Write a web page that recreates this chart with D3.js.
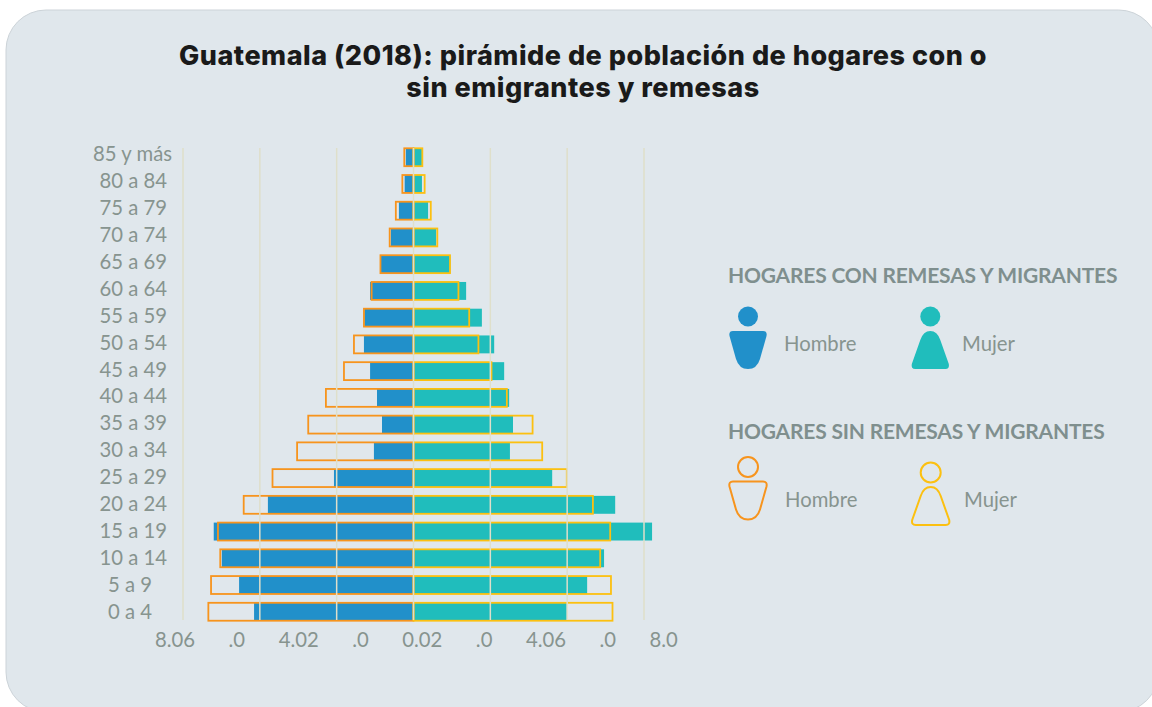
<!DOCTYPE html>
<html><head><meta charset="utf-8">
<script src="https://cdn.jsdelivr.net/npm/d3@7"></script>
<style>html,body{margin:0;background:#fff}svg{display:block}</style></head>
<body><svg id="c" width="1152" height="707"></svg>
<script>
const ageGroups = ["85 y más","80 a 84","75 a 79","70 a 74","65 a 69","60 a 64","55 a 59","50 a 54","45 a 49","40 a 44","35 a 39","30 a 34","25 a 29","20 a 24","15 a 19","10 a 14","5 a 9","0 a 4"];
const hombreCon = [0.20,0.23,0.38,0.59,0.85,1.13,1.28,1.29,1.13,0.95,0.82,1.03,2.07,3.79,5.20,4.99,4.54,4.15];
const hombreSin = [0.24,0.29,0.46,0.62,0.86,1.09,1.29,1.55,1.81,2.28,2.74,3.03,3.67,4.42,5.09,5.03,5.27,5.34];
const mujerCon = [0.22,0.22,0.38,0.59,0.96,1.37,1.78,2.10,2.36,2.49,2.59,2.51,3.61,5.25,6.21,4.96,4.52,3.99];
const mujerSin = [0.23,0.29,0.45,0.62,0.95,1.17,1.45,1.69,2.03,2.43,3.10,3.35,3.99,4.67,5.12,4.86,5.14,5.18];
const gridValues = [-6,-4,-2,0,2,4,6];
const axisLabels = ["8.06",".0","4.02",".0","0.02",".0","4.06",".0","8.0"];

const svg = d3.select("#c");
svg.append("rect").attr("x",6).attr("y",10).attr("width",1152.6).attr("height",702).attr("rx",40)
  .attr("fill","#e0e7ec").attr("stroke","#ccd3d8").attr("stroke-width",1);

const title = svg.append("text").attr("text-anchor","middle").attr("fill","#1a1a1a")
  .attr("font-family","Inter").attr("font-weight",800).attr("font-size",27).attr("letter-spacing",0.5);
title.append("tspan").attr("x",583).attr("y",65).text("Guatemala (2018): pirámide de población de hogares con o");
title.append("tspan").attr("x",583).attr("y",97).text("sin emigrantes y remesas");

const x = d3.scaleLinear().domain([-6,6]).range([183,644]);
const y = d3.scaleBand().domain(ageGroups).range([144,625]).paddingInner(0.33).paddingOuter(0.16);
const yLabel = d3.scalePoint().domain(ageGroups).range([154,612]);
const gray = "#87948f";

const bars = (vals,sign,fill) => svg.append("g").selectAll("rect").data(vals).join("rect")
  .attr("x",d=>sign<0?x(-d):x(0)).attr("width",d=>Math.abs(x(d)-x(0)))
  .attr("y",(d,i)=>y(ageGroups[i])).attr("height",y.bandwidth()).attr("fill",fill);
bars(hombreCon,-1,"#2190ca");
bars(mujerCon,1,"#20bdbc");

const outlines = (vals,sign,stroke) => svg.append("g").selectAll("rect").data(vals).join("rect")
  .attr("x",d=>sign<0?x(-d):x(0)).attr("width",d=>Math.abs(x(d)-x(0)))
  .attr("y",(d,i)=>y(ageGroups[i])).attr("height",y.bandwidth()).attr("fill","none")
  .attr("stroke",stroke).attr("stroke-width",1.8);
outlines(hombreSin,-1,"#f7941d");
outlines(mujerSin,1,"#fcc010");

svg.append("g").selectAll("line").data(gridValues).join("line")
  .attr("x1",d=>x(d)).attr("x2",d=>x(d)).attr("y1",148).attr("y2",620)
  .attr("stroke","#dfdfca").attr("stroke-width",1.5);

svg.append("g").selectAll("text").data(ageGroups).join("text")
  .attr("x",d=>d==="85 y más"?172:(d==="5 a 9"||d==="0 a 4"?152:167))
  .attr("text-anchor","end")
  .attr("y",d=>yLabel(d)+7).attr("fill",gray)
  .attr("font-family","Lato").attr("font-size",20.3).text(d=>d);

const axisText = svg.append("text").attr("x",155).attr("y",646.5).attr("fill",gray)
  .attr("font-family","Lato").attr("font-size",20.3);
axisText.selectAll("tspan").data(axisLabels).join("tspan")
  .attr("dx",(d,i)=>i?33.5:0).text(d=>d);

const legendHead = [["HOGARES CON REMESAS Y MIGRANTES",283],["HOGARES SIN REMESAS Y MIGRANTES",439]];
svg.append("g").selectAll("text").data(legendHead).join("text")
  .attr("x",728).attr("y",d=>d[1]).attr("fill","#7f8f8e").attr("font-family","Lato")
  .attr("font-weight",700).attr("font-size",21).attr("letter-spacing",-0.2).text(d=>d[0]);

const man = "M-15,0 Q-19.5,0 -18.5,5 L-12,28 Q-9,38 0,38 Q9,38 12,28 L18.5,5 Q19.5,0 15,0 Z";
const woman = "M-15,38 Q-19.5,38 -18.5,33 L-10,9 Q-7,0 0,0 Q7,0 10,9 L18.5,33 Q19.5,38 15,38 Z";
function person(cx,cy,r,by,path,col,filled){
  const g = svg.append("g");
  g.append("circle").attr("cx",cx).attr("cy",cy).attr("r",r)
   .attr("fill",filled?col:"none").attr("stroke",filled?"none":col).attr("stroke-width",2);
  g.append("path").attr("d",path).attr("transform",`translate(${cx},${by})`)
   .attr("fill",filled?col:"none").attr("stroke",filled?"none":col).attr("stroke-width",2);
}
person(748,316.5,10,331,man,"#2190ca",true);
person(930.3,316.5,10,331,woman,"#20bdbc",true);
person(748,467,10,481.5,man,"#f7941d",false);
person(930.7,472.5,10,487,woman,"#fcc010",false);
const legendText = [["Hombre",784,351],["Mujer",962,351],["Hombre",785,507],["Mujer",964,507]];
svg.append("g").selectAll("text").data(legendText).join("text")
  .attr("x",d=>d[1]).attr("y",d=>d[2]).attr("fill",gray).attr("font-family","Lato").attr("font-size",20.3).text(d=>d[0]);
</script></body></html>
